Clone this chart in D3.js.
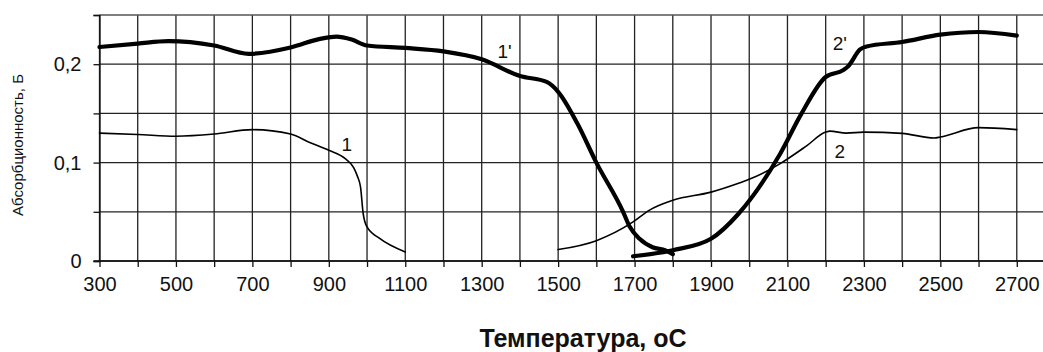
<!DOCTYPE html>
<html>
<head>
<meta charset="utf-8">
<script src="https://cdn.jsdelivr.net/npm/d3@7"></script>
<style>
  html, body { margin: 0; padding: 0; background: #fff; }
  svg { display: block; }
  text { font-family: "Liberation Sans", Arial, sans-serif; fill: #111; }
</style>
</head>
<body>
<svg id="chart" width="1043" height="352"></svg>
<script>
// Temperature axis ticks and labels
const xGridTicks = d3.range(300, 2801, 100);
const xLabelTicks = d3.range(300, 2701, 200);
const yGridTicks = [0, 0.05, 0.1, 0.15, 0.2, 0.25];
const yLabelTicks = [0, 0.1, 0.2];

// Curve 1 (thin)
const temp1 = [300, 400, 500, 600, 700, 800, 850, 900, 943, 965, 975, 983, 990, 1000, 1033, 1100];
const abs1  = [0.130, 0.1286, 0.1268, 0.129, 0.1335, 0.129, 0.1205, 0.1125, 0.104, 0.095, 0.086, 0.075, 0.048, 0.0346, 0.0229, 0.0092];

// Curve 1' (thick)
const temp1p = [300, 400, 480, 600, 690, 800, 880, 920, 960, 1000, 1100, 1200, 1300, 1400, 1470, 1500, 1550, 1600, 1670, 1687, 1713, 1747, 1781, 1800];
const abs1p  = [0.2175, 0.221, 0.2235, 0.219, 0.2105, 0.217, 0.226, 0.228, 0.225, 0.219, 0.2165, 0.213, 0.205, 0.188, 0.182, 0.172, 0.14, 0.1, 0.05, 0.035, 0.0226, 0.014, 0.0108, 0.007];

// Curve 2 (thin)
const temp2 = [1500, 1600, 1696, 1738, 1800, 1900, 1972, 2000, 2081, 2150, 2200, 2211, 2254, 2300, 2400, 2484, 2500, 2600, 2700];
const abs2  = [0.0116, 0.0207, 0.0397, 0.0515, 0.0617, 0.07, 0.079, 0.083, 0.099, 0.117, 0.131, 0.132, 0.130, 0.131, 0.1297, 0.125, 0.126, 0.1355, 0.1335];

// Curve 2' (thick)
const temp2p = [1696, 1800, 1900, 1972, 2081, 2137, 2200, 2246, 2259, 2290, 2307, 2400, 2500, 2600, 2700];
const abs2p  = [0.0048, 0.011, 0.0226, 0.048, 0.109, 0.15, 0.187, 0.194, 0.198, 0.215, 0.218, 0.2226, 0.230, 0.2327, 0.229];

// Curve labels
const curveLabels = [
  { text: "1",  t: 947,  v: 0.119 },
  { text: "1'", t: 1360, v: 0.213 },
  { text: "2",  t: 2237, v: 0.111 },
  { text: "2'", t: 2237, v: 0.221 }
];

const svg = d3.select("#chart");
const x = d3.scaleLinear().domain([300, 2800]).range([99.5, 1055]);
const y = d3.scaleLinear().domain([0, 0.25]).range([261, 15]);

// grid
const grid = svg.append("g").attr("stroke", "#222").attr("stroke-width", 1.3);
grid.selectAll("line.v").data(xGridTicks).join("line")
  .attr("x1", d => x(d)).attr("x2", d => x(d))
  .attr("y1", y(0.25)).attr("y2", y(0));
grid.selectAll("line.h").data(yGridTicks).join("line")
  .attr("x1", x(300)).attr("x2", x(2800))
  .attr("y1", d => y(d)).attr("y2", d => y(d))
  .attr("stroke", d => d === 0.25 ? "#555" : "#222");

// axes
const xAxis = d3.axisBottom(x).tickValues(xGridTicks).tickSize(6).tickPadding(10)
  .tickFormat(d => xLabelTicks.includes(d) ? String(d) : "");
const gx = svg.append("g").attr("transform", `translate(0,${y(0)})`).call(xAxis);
gx.select(".domain").attr("stroke", "#111").attr("stroke-width", 1.3)
  .attr("d", `M${x(300) - 6},0H${x(2800)}`);
gx.selectAll(".tick line").attr("stroke", "#111").attr("stroke-width", 1.3);
gx.selectAll(".tick text").attr("font-size", 20).attr("font-family", "Liberation Sans, Arial, sans-serif").attr("fill", "#111");

const yAxis = d3.axisLeft(y).tickValues(yGridTicks).tickSize(6).tickPadding(12)
  .tickFormat(d => yLabelTicks.includes(d) ? (d === 0 ? "0" : d3.format(".1f")(d).replace(".", ",")) : "");
const gy = svg.append("g").attr("transform", `translate(${x(300)},0)`).call(yAxis);
gy.select(".domain").attr("stroke", "#111").attr("stroke-width", 1.3);
gy.selectAll(".tick line").attr("stroke", "#111").attr("stroke-width", 1.3);
gy.selectAll(".tick text").attr("font-size", 20).attr("font-family", "Liberation Sans, Arial, sans-serif").attr("fill", "#111");

// curves
const line = d3.line().x(d => x(d[0])).y(d => y(d[1])).curve(d3.curveMonotoneX);
const series = [
  { t: temp1,  v: abs1,  w: 1.6 },
  { t: temp1p, v: abs1p, w: 4.2 },
  { t: temp2,  v: abs2,  w: 1.6 },
  { t: temp2p, v: abs2p, w: 4.2 }
];
svg.append("g").selectAll("path").data(series).join("path")
  .attr("d", s => line(d3.zip(s.t, s.v)))
  .attr("fill", "none").attr("stroke", "#000")
  .attr("stroke-width", s => s.w)
  .attr("stroke-linecap", "round").attr("stroke-linejoin", "round");

// labels on curves
svg.append("g").selectAll("text").data(curveLabels).join("text")
  .attr("x", d => x(d.t)).attr("y", d => y(d.v))
  .attr("text-anchor", "middle").attr("dy", "0.35em")
  .attr("font-size", 19)
  .text(d => d.text);

// axis titles
svg.append("text")
  .attr("transform", "translate(18,145) rotate(-90)")
  .attr("text-anchor", "middle").attr("dy", "0.35em")
  .attr("font-size", 15)
  .text("Абсорбционность, Б");

svg.append("text")
  .attr("x", 583).attr("y", 347)
  .attr("text-anchor", "middle")
  .attr("font-size", 25).attr("font-weight", "bold")
  .text("Температура, оС");
</script>
</body>
</html>
